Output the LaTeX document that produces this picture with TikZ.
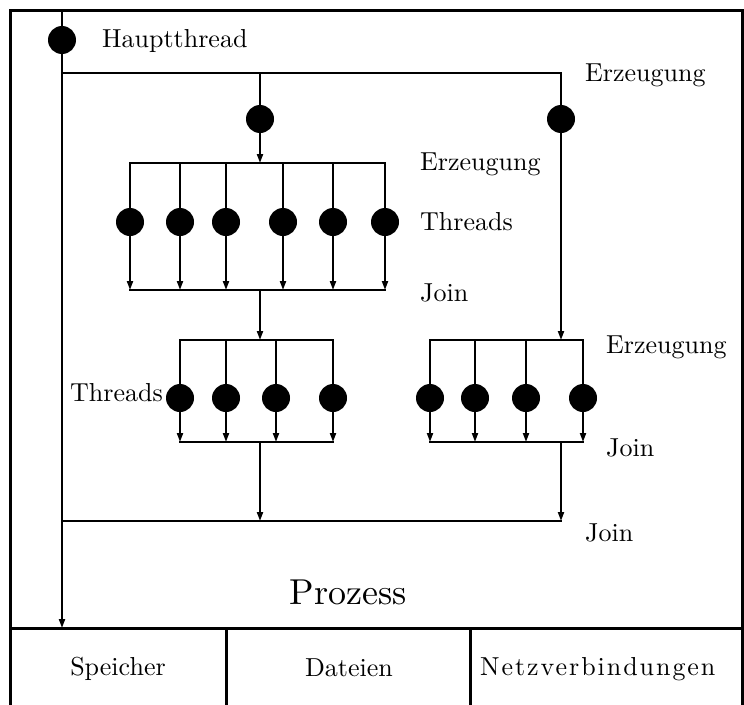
\documentclass[tikz,border=0pt]{standalone}
\usepackage{fontspec}
\newfontfamily\lmten{lmroman10-regular.otf}
\newfontfamily\lmtenw{lmroman10-regular.otf}[LetterSpace=7.5]
\usetikzlibrary{arrows.meta}
\begin{document}
\begin{tikzpicture}[x=1pt,y=-1pt,
  ln/.style={line width=2pt},
  bar/.style={line width=2pt,line cap=rect},
  frm/.style={line width=3pt},
  arr/.style={line width=2pt,-{Triangle[length=9pt,width=6pt]}},
  thr/.style={circle,fill=black,minimum size=28pt,inner sep=0pt},
  lbl/.style={font=\lmten\fontsize{26}{30}\selectfont,inner sep=0pt,anchor=base west},
  big/.style={font=\lmten\fontsize{36}{42}\selectfont,inner sep=0pt,anchor=base}]
\useasboundingbox (0,0) rectangle (744,704);
% frame
\draw[frm] (10,706) -- (10,10) -- (742,10) -- (742,706);
\draw[frm] (10,628) -- (744,628);
\draw[frm] (226,628) -- (226,706);
\draw[frm] (470,628) -- (470,706);
% main thread
\coordinate (top) at (62,10);
\node[thr] (h) at (62,40) {};
\coordinate (hEnd) at (62,628);
\draw[ln] (top) -- (h);
\draw[arr] (h) -- (hEnd);
% first creation
\coordinate (e0) at (62,73);
\coordinate (e1) at (561,73);
\coordinate (aTop) at (260,73);
\draw[bar] (e0) -- (e1);
\node[thr] (A) at (260,119) {};
\node[thr] (B) at (561,119) {};
\coordinate (b1c) at (260,163);
\coordinate (b3c) at (561,340);
\draw[ln] (aTop) -- (A);
\draw[arr] (A) -- (b1c);
\draw[ln] (e1) -- (B);
\draw[arr] (B) -- (b3c);
% group 1
\coordinate (b1l) at (130,163); \coordinate (b1r) at (385,163);
\coordinate (j1l) at (130,290); \coordinate (j1r) at (385,290);
\draw[bar] (b1l) -- (b1r);
\draw[bar] (j1l) -- (j1r);
\foreach \x [count=\i] in {130,180,226,283,333,385} {
  \coordinate (p1t\i) at (\x,163);
  \node[thr] (p1n\i) at (\x,222) {};
  \coordinate (p1b\i) at (\x,290);
  \draw[ln] (p1t\i) -- (p1n\i);
  \draw[arr] (p1n\i) -- (p1b\i);
}
\coordinate (j1c) at (260,290);
\coordinate (b2c) at (260,340);
\draw[arr] (j1c) -- (b2c);
% group 2
\coordinate (b2l) at (180,340); \coordinate (b2r) at (333,340);
\coordinate (j2l) at (180,442); \coordinate (j2r) at (333,442);
\draw[bar] (b2l) -- (b2r);
\draw[bar] (j2l) -- (j2r);
\foreach \x [count=\i] in {180,226,276,333} {
  \coordinate (p2t\i) at (\x,340);
  \node[thr] (p2n\i) at (\x,398) {};
  \coordinate (p2b\i) at (\x,442);
  \draw[ln] (p2t\i) -- (p2n\i);
  \draw[arr] (p2n\i) -- (p2b\i);
}
% group 3
\coordinate (b3l) at (430,340); \coordinate (b3r) at (583,340);
\coordinate (j3l) at (430,442); \coordinate (j3r) at (583,442);
\draw[bar] (b3l) -- (b3r);
\draw[bar] (j3l) -- (j3r);
\foreach \x [count=\i] in {430,475,526,583} {
  \coordinate (p3t\i) at (\x,340);
  \node[thr] (p3n\i) at (\x,398) {};
  \coordinate (p3b\i) at (\x,442);
  \draw[ln] (p3t\i) -- (p3n\i);
  \draw[arr] (p3n\i) -- (p3b\i);
}
% final join
\coordinate (j2c) at (260,442);
\coordinate (j3c) at (561,442);
\coordinate (fL) at (62,521);
\coordinate (fA) at (260,521);
\coordinate (fB) at (561,521);
\draw[arr] (j2c) -- (fA);
\draw[arr] (j3c) -- (fB);
\draw[bar] (fL) -- (fB);
% labels
\node[lbl] (tH) at (102,47) {Hauptthread};
\node[lbl] (tE0) at (585,81) {Erzeugung};
\node[lbl] (tE1) at (420,170) {Erzeugung};
\node[lbl] (tT1) at (420,230) {Threads};
\node[lbl] (tJ1) at (420,301) {Join};
\node[lbl] (tE3) at (606,353) {Erzeugung};
\node[lbl] (tT2) at (70,401) {Threads};
\node[lbl] (tJ3) at (606,456) {Join};
\node[lbl] (tJf) at (585,541) {Join};
\node[big] (tP) at (348,604) {Prozess};
\node[lbl,anchor=base] (tS) at (118,675) {Speicher};
\node[lbl,anchor=base] (tD) at (349,676) {Dateien};
\node[lbl,anchor=base west,font=\lmtenw\fontsize{26}{30}\selectfont] (tN) at (480,675) {Netzverbindungen};
\end{tikzpicture}
\end{document}
